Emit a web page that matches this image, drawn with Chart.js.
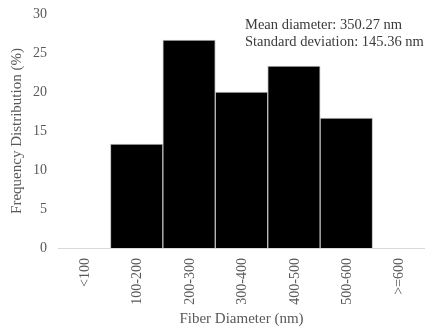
<!DOCTYPE html>
<html>
<head>
<meta charset="utf-8">
<script src="https://cdn.jsdelivr.net/npm/chart.js@4/dist/chart.umd.min.js"></script>
<style>
  html, body { margin: 0; padding: 0; background: #ffffff; }
  #wrap { width: 425px; height: 334px; }
</style>
</head>
<body>
<div id="wrap"><canvas id="chart" width="425" height="334"></canvas></div>
<script>
// Fiber diameter histogram
const categories = ['<100', '100-200', '200-300', '300-400', '400-500', '500-600', '>=600'];
const frequency = [0, 13.33, 26.67, 20, 23.33, 16.67, 0];
const yTicks = [0, 5, 10, 15, 20, 25, 30];
const statsLines = ['Mean diameter: 350.27 nm', 'Standard deviation: 145.36 nm'];

const SERIF = '"Liberation Serif", "DejaVu Serif", serif';
const AXIS_GREY = '#595959';

// Category labels rotated to read bottom-to-top, anchored just below the axis
const verticalLabels = {
  id: 'verticalLabels',
  afterDraw(chart) {
    const { ctx, chartArea } = chart;
    const xs = chart.scales.x;
    ctx.save();
    ctx.font = '14px ' + SERIF;
    ctx.fillStyle = AXIS_GREY;
    ctx.textAlign = 'right';
    ctx.textBaseline = 'middle';
    categories.forEach((lab, i) => {
      const x = xs.getPixelForTick(i) + 1;
      const y = chartArea.bottom + 10;
      ctx.save();
      ctx.translate(x, y);
      ctx.rotate(-Math.PI / 2);
      ctx.fillText(lab, 0, 0);
      ctx.restore();
    });
    ctx.restore();
  }
};

// Summary statistics in the upper right
const statsNote = {
  id: 'statsNote',
  afterDraw(chart) {
    const { ctx } = chart;
    ctx.save();
    ctx.font = '14.5px ' + SERIF;
    ctx.fillStyle = '#3a3a3a';
    ctx.textAlign = 'left';
    ctx.textBaseline = 'middle';
    statsLines.forEach((t, i) => ctx.fillText(t, 245, 25 + i * 16.7));
    ctx.restore();
  }
};

new Chart(document.getElementById('chart'), {
  type: 'bar',
  data: {
    labels: categories,
    datasets: [{
      data: frequency,
      backgroundColor: '#000000',
      borderColor: '#bdbdbd',
      borderWidth: 1,
      barPercentage: 1,
      categoryPercentage: 1
    }]
  },
  options: {
    responsive: false,
    animation: false,
    layout: { padding: { top: 14, right: -4, bottom: 0, left: 0 } },
    plugins: { legend: { display: false }, tooltip: { enabled: false } },
    scales: {
      x: {
        grid: { display: false },
        border: { display: true, color: '#d9d9d9', width: 1 },
        ticks: { display: false },
        title: {
          display: true,
          text: 'Fiber Diameter (nm)',
          color: AXIS_GREY,
          font: { family: SERIF, size: 15 },
          padding: { top: 0, bottom: 6 }
        },
        afterFit(scale) {
          scale.height = 86;
          scale.paddingLeft = 0;
          scale.paddingRight = 0;
        }
      },
      y: {
        min: 0,
        max: 30,
        afterBuildTicks(scale) { scale.ticks = yTicks.map(v => ({ value: v })); },
        grid: { display: false, drawTicks: false },
        border: { display: false },
        ticks: {
          color: AXIS_GREY,
          font: { family: SERIF, size: 14 },
          padding: 11
        },
        title: {
          display: true,
          text: 'Frequency Distribution (%)',
          color: AXIS_GREY,
          font: { family: SERIF, size: 15 },
          padding: { top: 8, bottom: 0 }
        },
        afterFit(scale) {
          scale.width = 58;
          scale.paddingTop = 0;
          scale.paddingBottom = 0;
        }
      }
    }
  },
  plugins: [verticalLabels, statsNote]
});
</script>
</body>
</html>
